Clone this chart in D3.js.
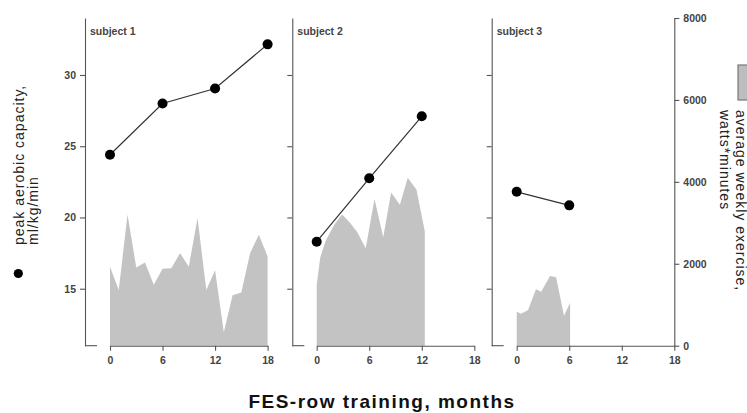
<!DOCTYPE html>
<html><head><meta charset="utf-8">
<script src="https://cdn.jsdelivr.net/npm/d3@7"></script>
<style>
html,body{margin:0;padding:0;background:#fff;}
svg{display:block;font-family:"Liberation Sans",Arial,sans-serif;}
</style></head>
<body><svg id="c" width="747" height="413"></svg>
<script>
// ---- data ----
const subjects = ["subject 1", "subject 2", "subject 3"];
const xTicks = [0, 6, 12, 18];
const peakTicks = [15, 20, 25, 30];
const exerciseTicks = [0, 2000, 4000, 6000, 8000];

const peakMonths1 = [0, 6, 12, 18];
const peak1 = [24.4, 28.0, 29.05, 32.15];
const peakMonths2 = [0, 6, 12];
const peak2 = [18.3, 22.75, 27.1];
const peakMonths3 = [0, 6];
const peak3 = [21.8, 20.85];

const exMonths1 = [0, 1, 2, 3, 4, 5, 6, 7, 8, 9, 10, 11, 12, 13, 14, 15, 16, 17, 18];
const ex1 = [1930, 1360, 3200, 1910, 2030, 1490, 1880, 1890, 2260, 1930, 3120, 1360, 1840, 330, 1230, 1300, 2260, 2710, 2180];
const exMonths2 = [0, 0.4, 1, 2, 2.9, 3.8, 4.6, 5.6, 6.6, 7.6, 8.5, 9.5, 10.4, 11.4, 12.35];
const ex2 = [1490, 2150, 2550, 2950, 3200, 3000, 2780, 2380, 3580, 2650, 3740, 3440, 4100, 3810, 2790];
const exMonths3 = [0, 0.5, 1.3, 2.2, 2.8, 3.8, 4.5, 5.4, 6.1];
const ex3 = [830, 780, 870, 1380, 1320, 1700, 1670, 730, 1050];

const peakMonths = [peakMonths1, peakMonths2, peakMonths3];
const peaks = [peak1, peak2, peak3];
const exMonths = [exMonths1, exMonths2, exMonths3];
const exs = [ex1, ex2, ex3];

// ---- layout ----
const svg = d3.select("#c");
const plotTop = 18, plotBottom = 345.7;
const axisX = [85, 292.3, 491.7];
const x0s = [110, 316.7, 516.7];
const xw = 157.6;
const axisCol = "#555";
const txtCol = "#444";

const yL = d3.scaleLinear().domain([11, 34]).range([plotBottom, plotTop]);
const yR = d3.scaleLinear().domain([0, 8000]).range([plotBottom, plotTop]);

function styleAxis(g){
  g.selectAll("path,line").attr("stroke", axisCol).attr("stroke-width", 1.1);
  g.selectAll("text").attr("fill", txtCol).style("font-size", "10.5px").style("font-weight", "bold");
  g.attr("font-family", null);
}

subjects.forEach((name, i) => {
  const x = d3.scaleLinear().domain([0, 18]).range([x0s[i], x0s[i] + xw]);
  const g = svg.append("g");

  const aData = exMonths[i].map((m, k) => ({m, v: exs[i][k]}));
  g.append("path").datum(aData)
    .attr("fill", "#c3c3c3")
    .attr("d", d3.area().x(d => x(d.m)).y0(yR(0)).y1(d => yR(d.v)));

  const ax = d3.axisLeft(yL).tickValues(peakTicks).tickSize(5).tickSizeOuter(0).tickPadding(4);
  if (i > 0) ax.tickFormat("");
  const ga = g.append("g").attr("transform", `translate(${axisX[i]},0)`).call(ax);
  styleAxis(ga);
  g.append("line").attr("x1", axisX[i]).attr("x2", axisX[i] + 12)
    .attr("y1", plotBottom).attr("y2", plotBottom).attr("stroke", axisCol).attr("stroke-width", 1.1);

  const gx = g.append("g").attr("transform", `translate(0,${plotBottom})`)
    .call(d3.axisBottom(x).tickValues(xTicks).tickSize(5).tickSizeOuter(0).tickPadding(6));
  styleAxis(gx);

  g.append("text").attr("x", axisX[i] + 5).attr("y", 35)
    .attr("fill", txtCol).style("font-size", "10.5px").style("font-weight", "bold")
    .text(name);

  const pData = peakMonths[i].map((m, k) => ({m, v: peaks[i][k]}));
  g.append("path").datum(pData)
    .attr("fill", "none").attr("stroke", "#333").attr("stroke-width", 1.2)
    .attr("d", d3.line().x(d => x(d.m)).y(d => yL(d.v)));
  g.selectAll("circle.p").data(pData).enter().append("circle")
    .attr("cx", d => x(d.m)).attr("cy", d => yL(d.v)).attr("r", 5).attr("fill", "#000");
});

const gr = svg.append("g").attr("transform", `translate(${x0s[2] + xw},0)`)
  .call(d3.axisRight(yR).tickValues(exerciseTicks).tickFormat(d3.format("d"))
    .tickSize(5).tickSizeOuter(0).tickPadding(4));
styleAxis(gr);

const lt = svg.append("g").attr("transform", "translate(23.5,245) rotate(-90)");
lt.append("text").attr("x", 0).attr("y", 0).attr("fill", "#222")
  .style("font-size", "14px").style("letter-spacing", "1px").text("peak aerobic capacity,");
lt.append("text").attr("x", 0).attr("y", 14.5).attr("fill", "#222")
  .style("font-size", "14px").style("letter-spacing", "1px").text("ml/kg/min");
svg.append("circle").attr("cx", 18.3).attr("cy", 273.5).attr("r", 4.6).attr("fill", "#000");

svg.append("rect").attr("x", 738).attr("y", 65).attr("width", 10).attr("height", 35)
  .attr("fill", "#bdbdbd").attr("stroke", "#777").attr("stroke-width", 1.2);
const rt = svg.append("g").attr("transform", "translate(735.5,110) rotate(90)");
rt.append("text").attr("x", 0).attr("y", 0).attr("fill", "#222")
  .style("font-size", "14px").style("letter-spacing", "1px").text("average weekly exercise,");
rt.append("text").attr("x", 0).attr("y", 16).attr("fill", "#222")
  .style("font-size", "14px").style("letter-spacing", "1px").text("watts*minutes");

svg.append("text").attr("x", 382).attr("y", 408).attr("text-anchor", "middle")
  .attr("fill", "#111").style("font-size", "19px").style("font-weight", "bold")
  .style("letter-spacing", "1.5px").text("FES-row training, months");
</script>
</body></html>
